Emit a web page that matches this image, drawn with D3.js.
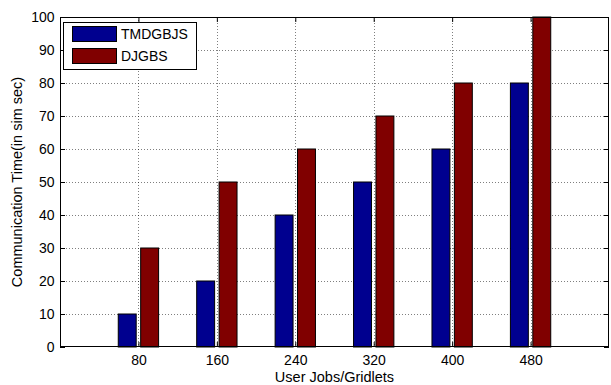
<!DOCTYPE html>
<html>
<head>
<meta charset="utf-8">
<script src="https://cdn.jsdelivr.net/npm/d3@7"></script>
<style>
  html, body { margin: 0; padding: 0; background: #fff; }
  svg { display: block; font-family: "Liberation Sans", Arial, Helvetica, sans-serif; }
</style>
</head>
<body>
<svg id="chart" width="611" height="385"></svg>
<script>
// Communication time per number of user jobs / gridlets
const categories = ["80", "160", "240", "320", "400", "480"];
const seriesNames = ["TMDGBJS", "DJGBS"];
const tmdgbjs = [10, 20, 40, 50, 60, 80];
const djgbs = [30, 50, 60, 70, 80, 100];
const yTicks = [0, 10, 20, 30, 40, 50, 60, 70, 80, 90, 100];
const seriesValues = [tmdgbjs, djgbs];
const colors = ["#00008f", "#800000"];

const svg = d3.select("#chart");
const plotL = 60, plotR = 609, plotT = 17, plotB = 347;

// Categories sit at 1..n on a numeric axis that spans 0..n+1
const x = d3.scaleLinear().domain([0, categories.length + 1]).range([plotL, plotR]);
const y = d3.scaleLinear().domain([0, 100]).range([plotB, plotT]);

// Grouped bar geometry: group width 2/3.5, each bar 80% of its slot
const nSeries = seriesValues.length;
const groupW = Math.min(0.8, nSeries / (nSeries + 1.5));
const slot = groupW / nSeries;
const barW = slot * 0.8;
const offset = i => -groupW / 2 + slot * (i + 0.5);

// Dotted grid
const grid = svg.append("g")
  .attr("stroke", "#000").attr("stroke-opacity", 0.5)
  .attr("stroke-width", 1).attr("stroke-dasharray", "1,2");
grid.selectAll("line.h").data(yTicks.slice(1, -1)).join("line")
  .attr("x1", plotL).attr("x2", plotR)
  .attr("y1", d => Math.round(y(d)) + 0.5).attr("y2", d => Math.round(y(d)) + 0.5);
grid.selectAll("line.v").data(categories).join("line")
  .attr("y1", plotT).attr("y2", plotB)
  .attr("x1", (d, i) => Math.round(x(i + 1)) + 0.5).attr("x2", (d, i) => Math.round(x(i + 1)) + 0.5);

// Bars
seriesValues.forEach((vals, s) => {
  svg.append("g").selectAll("rect").data(vals).join("rect")
    .attr("x", (d, i) => x(i + 1 + offset(s) - barW / 2))
    .attr("width", x(barW) - x(0))
    .attr("y", d => y(d))
    .attr("height", d => y(0) - y(d))
    .attr("fill", colors[s])
    .attr("stroke", "#000").attr("stroke-width", 1);
});

// Axes with inward ticks on all four sides
const tickLen = 5;
const yAxisL = d3.axisLeft(y).tickValues(yTicks).tickSize(-tickLen).tickPadding(5.5);
const yAxisR = d3.axisRight(y).tickValues(yTicks).tickSize(-tickLen).tickFormat("");
const xVals = categories.map((c, i) => i + 1);
const xAxisB = d3.axisBottom(x).tickValues(xVals).tickSize(-tickLen).tickPadding(8.5)
  .tickFormat(d => categories[d - 1]);
const xAxisT = d3.axisTop(x).tickValues(xVals).tickSize(-tickLen).tickFormat("");

function styleAxis(g) {
  g.select(".domain").remove();
  g.selectAll("line").attr("stroke", "#000");
  g.selectAll("text").attr("font-size", 14).attr("fill", "#000")
    .attr("font-family", "Liberation Sans, Arial, sans-serif");
}
svg.append("g").attr("transform", `translate(${plotL},0)`).call(yAxisL).call(styleAxis);
svg.append("g").attr("transform", `translate(${plotR},0)`).call(yAxisR).call(styleAxis);
svg.append("g").attr("transform", `translate(0,${plotB})`).call(xAxisB).call(styleAxis);
svg.append("g").attr("transform", `translate(0,${plotT})`).call(xAxisT).call(styleAxis);

// Axes box
svg.append("rect").attr("x", plotL + 0.5).attr("y", plotT + 0.5)
  .attr("width", plotR - plotL - 1).attr("height", plotB - plotT - 1)
  .attr("fill", "none").attr("stroke", "#000").attr("stroke-width", 1);

// Axis labels
svg.append("text").attr("x", (plotL + plotR) / 2).attr("y", 381.5)
  .attr("text-anchor", "middle").attr("font-size", 14.5).text("User Jobs/Gridlets");
svg.append("text").attr("transform", `translate(22,${(plotT + plotB) / 2}) rotate(-90)`)
  .attr("text-anchor", "middle").attr("font-size", 14.5).text("Communication Time(in sim sec)");

// Legend
const lg = svg.append("g");
lg.append("rect").attr("x", 63.5).attr("y", 22.5).attr("width", 133).attr("height", 47)
  .attr("fill", "#fff").attr("stroke", "#000");
seriesNames.forEach((name, i) => {
  const yy = 26 + i * 22;
  lg.append("rect").attr("x", 72.5).attr("y", yy + 0.5).attr("width", 44).attr("height", 15)
    .attr("fill", colors[i]).attr("stroke", "#000");
  lg.append("text").attr("x", 121).attr("y", yy + 13).attr("font-size", 14).text(name);
});
</script>
</body>
</html>
